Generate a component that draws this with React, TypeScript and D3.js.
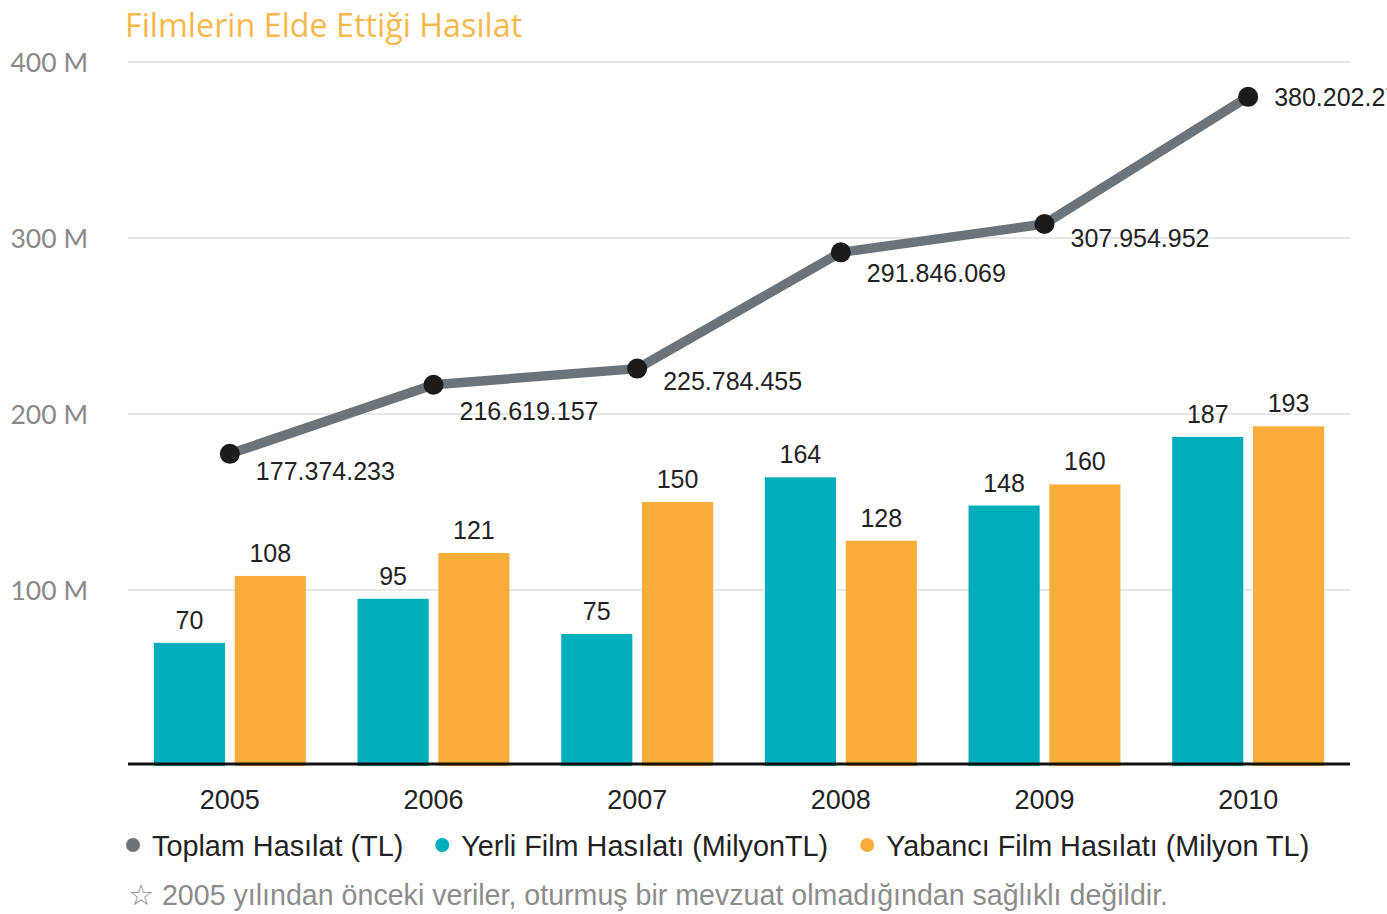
import React, { useRef, useEffect } from "react";
import * as d3 from "d3";

// data
const years = ["2005", "2006", "2007", "2008", "2009", "2010"];
const totalRevenue = [177374233, 216619157, 225784455, 291846069, 307954952, 380202275];
const totalLabels = ["177.374.233", "216.619.157", "225.784.455", "291.846.069", "307.954.952", "380.202.275"];
const domesticRevenue = [70, 95, 75, 164, 148, 187]; // million TL
const foreignRevenue = [108, 121, 150, 128, 160, 193]; // million TL
const yTicks = [100, 200, 300, 400];
const seriesNames = ["Toplam Hasılat (TL)", "Yerli Film Hasılatı (MilyonTL)", "Yabancı Film Hasılatı (Milyon TL)"];

const TITLE = "Filmlerin Elde Ettiği Hasılat";
const NOTE = "☆ 2005 yılından önceki veriler, oturmuş bir mevzuat olmadığından sağlıklı değildir.";

// label nudges for the line values (layout only)
const totalLabelDy = [17, 26, 12, 21, 14, 0];

const W = 1387;
const H = 914;
const TEAL = "#00adba";
const ORANGE = "#f9ad3b";
const LINE = "#6b747a";
const SANS = "'Liberation Sans', Arial, sans-serif";

const App: React.FC = () => {
  const svgRef = useRef<SVGSVGElement>(null);

  useEffect(() => {
    if (!svgRef.current) return;
    const svg = d3.select(svgRef.current);
    svg.selectAll("*").remove();

    const left = 128;
    const right = 1350;

    const x0 = d3.scaleBand<string>().domain(years).range([left, right]).padding(0);
    const x1 = d3
      .scaleBand<string>()
      .domain(["yerli", "yabanci"])
      .range([0, x0.bandwidth()])
      .paddingInner(0.12)
      .paddingOuter(0.32);
    const y = d3.scaleLinear().domain([0, 400]).range([766, 62]);

    // title
    svg
      .append("text")
      .attr("x", 125)
      .attr("y", 37)
      .style("font-family", "'Open Sans', Lato, sans-serif")
      .style("font-size", "32.3px")
      .style("fill", "#f7b84b")
      .text(TITLE);

    // gridlines + y labels
    yTicks.forEach((t) => {
      svg
        .append("line")
        .attr("x1", left)
        .attr("x2", right)
        .attr("y1", y(t))
        .attr("y2", y(t))
        .attr("stroke", "#e0e0e0")
        .attr("stroke-width", 1.5);
      svg
        .append("text")
        .attr("x", 88)
        .attr("y", y(t))
        .attr("text-anchor", "end")
        .attr("dominant-baseline", "central")
        .style("font-family", "Lato, 'Open Sans', sans-serif")
        .style("font-size", "26.5px")
        .style("fill", "#8a8a8a")
        .text(`${t} M`);
    });

    // bars
    const bars = svg.append("g");
    years.forEach((yr, i) => {
      const pairs: [string, number, string][] = [
        ["yerli", domesticRevenue[i], TEAL],
        ["yabanci", foreignRevenue[i], ORANGE],
      ];
      pairs.forEach(([key, v, c]) => {
        const bx = x0(yr)! + x1(key)!;
        bars
          .append("rect")
          .attr("x", bx)
          .attr("y", y(v))
          .attr("width", x1.bandwidth())
          .attr("height", y(0) - y(v))
          .attr("fill", c);
        bars
          .append("text")
          .attr("x", bx + x1.bandwidth() / 2)
          .attr("y", y(v) - 14)
          .attr("text-anchor", "middle")
          .style("font-family", SANS)
          .style("font-size", "25px")
          .style("fill", "#222")
          .text(v);
      });
    });

    // baseline
    svg
      .append("line")
      .attr("x1", left)
      .attr("x2", right)
      .attr("y1", 764)
      .attr("y2", 764)
      .attr("stroke", "#111")
      .attr("stroke-width", 3);

    // year labels
    years.forEach((yr) => {
      svg
        .append("text")
        .attr("x", x0(yr)! + x0.bandwidth() / 2)
        .attr("y", 800)
        .attr("text-anchor", "middle")
        .attr("dominant-baseline", "central")
        .style("font-family", SANS)
        .style("font-size", "27px")
        .style("fill", "#222")
        .text(yr);
    });

    // total line
    const pts: [number, number][] = years.map((yr, i) => [
      x0(yr)! + x0.bandwidth() / 2,
      y(totalRevenue[i] / 1e6),
    ]);
    svg
      .append("path")
      .attr("d", d3.line()(pts))
      .attr("fill", "none")
      .attr("stroke", LINE)
      .attr("stroke-width", 9.5)
      .attr("stroke-linejoin", "round");
    pts.forEach(([px, py], i) => {
      svg.append("circle").attr("cx", px).attr("cy", py).attr("r", 10).attr("fill", "#1b1b1b");
      svg
        .append("text")
        .attr("x", px + 26)
        .attr("y", py + totalLabelDy[i])
        .attr("dominant-baseline", "central")
        .style("font-family", SANS)
        .style("font-size", "25px")
        .style("fill", "#222")
        .text(totalLabels[i]);
    });

    // legend
    const legendColors = [LINE, TEAL, ORANGE];
    let lx = 133;
    seriesNames.forEach((name, i) => {
      svg.append("circle").attr("cx", lx).attr("cy", 845).attr("r", 7).attr("fill", legendColors[i]);
      const t = svg
        .append("text")
        .attr("x", lx + 19)
        .attr("y", 846)
        .attr("dominant-baseline", "central")
        .style("font-family", SANS)
        .style("font-size", "28.8px")
        .style("fill", "#222")
        .text(name);
      const len = (t.node() as SVGTextElement).getComputedTextLength();
      lx = lx + 19 + len + 39;
    });

    // footnote
    svg
      .append("text")
      .attr("x", 128)
      .attr("y", 895)
      .attr("dominant-baseline", "central")
      .style("font-family", SANS)
      .style("font-size", "28.6px")
      .style("fill", "#8c8c8c")
      .text(NOTE);
  }, []);

  return (
    <svg
      ref={svgRef}
      width={W}
      height={H}
      style={{ position: "absolute", left: 0, top: 0, background: "#fff" }}
    />
  );
};

export default App;
